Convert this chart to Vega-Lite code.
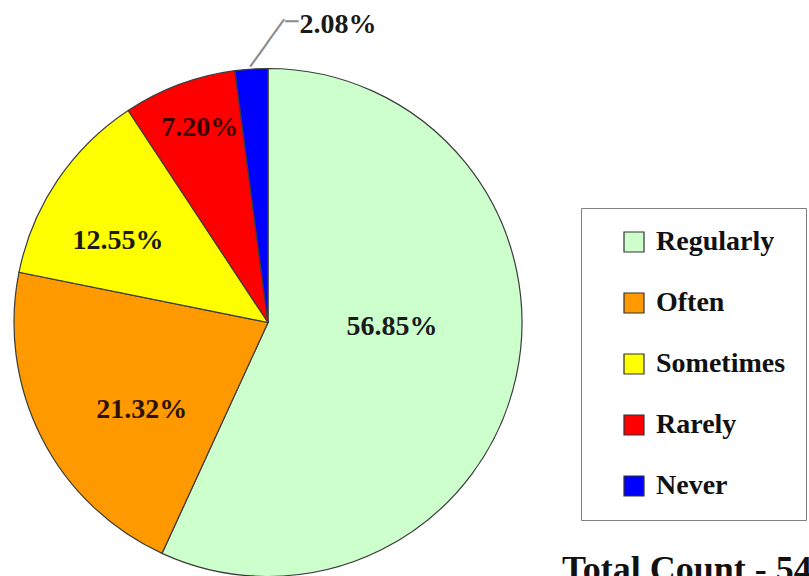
{
  "$schema": "https://vega.github.io/schema/vega-lite/v6.json",
  "width": 536,
  "height": 645,
  "autosize": {"type": "pad"},
  "padding": 0,
  "background": "white",
  "view": {"stroke": null},
  "title": {
    "text": "Total Count - 54",
    "orient": "bottom",
    "anchor": "start",
    "frame": "group",
    "offset": 0,
    "dx": 562,
    "dy": -64,
    "baseline": "alphabetic",
    "font": "Liberation Serif",
    "fontSize": 36,
    "fontWeight": "bold",
    "color": "#111111"
  },
  "data": {
    "values": [
      {"response": "Regularly", "percent": 56.85, "rank": 1, "label": "56.85%"},
      {"response": "Often", "percent": 21.32, "rank": 2, "label": "21.32%"},
      {"response": "Sometimes", "percent": 12.55, "rank": 3, "label": "12.55%"},
      {"response": "Rarely", "percent": 7.20, "rank": 4, "label": "7.20%"},
      {"response": "Never", "percent": 2.08, "rank": 5, "label": "2.08%"}
    ]
  },
  "encoding": {
    "theta": {"field": "percent", "type": "quantitative", "stack": true},
    "order": {"field": "rank", "type": "quantitative"}
  },
  "layer": [
    {
      "mark": {"type": "arc", "radius": 254, "stroke": "#3c3c3c", "strokeWidth": 1.2},
      "encoding": {
        "color": {
          "field": "response",
          "type": "nominal",
          "sort": ["Regularly", "Often", "Sometimes", "Rarely", "Never"],
          "scale": {
            "domain": ["Regularly", "Often", "Sometimes", "Rarely", "Never"],
            "range": ["#CCFFCC", "#FF9900", "#FFFF00", "#FF0000", "#0000FF"]
          },
          "legend": {
            "orient": "none",
            "legendX": 581,
            "legendY": 208,
            "title": null,
            "padding": 20,
            "strokeColor": "#808080",
            "fillColor": "white",
            "symbolType": "square",
            "symbolSize": 400,
            "symbolStrokeColor": "#333333",
            "symbolStrokeWidth": 1.2,
            "symbolOffset": 19,
            "labelOffset": 8,
            "labelFont": "Liberation Serif",
            "labelFontSize": 28,
            "labelFontWeight": "bold",
            "labelColor": "#111111",
            "labelLimit": 300,
            "rowPadding": 33
          }
        }
      }
    },
    {
      "mark": {"type": "text", "radius": 125, "dx": 2, "dy": -22, "font": "Liberation Serif", "fontSize": 28, "fontWeight": "bold", "color": "#1a1a1a"},
      "encoding": {"text": {"condition": {"test": "datum.response === 'Regularly'", "field": "label"}, "value": ""}}
    },
    {
      "mark": {"type": "text", "radius": 153, "dx": 10, "dy": 18, "font": "Liberation Serif", "fontSize": 28, "fontWeight": "bold", "color": "#2a1200"},
      "encoding": {"text": {"condition": {"test": "datum.response === 'Often'", "field": "label"}, "value": ""}}
    },
    {
      "mark": {"type": "text", "radius": 170, "dx": -9, "dy": 14, "font": "Liberation Serif", "fontSize": 28, "fontWeight": "bold", "color": "#1a1a1a"},
      "encoding": {"text": {"condition": {"test": "datum.response === 'Sometimes'", "field": "label"}, "value": ""}}
    },
    {
      "mark": {"type": "text", "radius": 207, "dx": 4, "dy": -1, "font": "Liberation Serif", "fontSize": 28, "fontWeight": "bold", "color": "#3a0000"},
      "encoding": {"text": {"condition": {"test": "datum.response === 'Rarely'", "field": "label"}, "value": ""}}
    },
    {
      "mark": {"type": "text", "radius": 256, "align": "left", "baseline": "middle", "angle": 305.7, "font": "DejaVu Sans Mono", "fontSize": 24, "color": "#8a8a8a"},
      "encoding": {"text": {"condition": {"test": "datum.response === 'Never'", "value": "────"}, "value": ""}}
    },
    {
      "mark": {"type": "text", "radius": 301.6, "dx": 36.6, "align": "left", "baseline": "middle", "font": "DejaVu Sans Mono", "fontSize": 22, "color": "#8a8a8a"},
      "encoding": {"text": {"condition": {"test": "datum.response === 'Never'", "value": "─"}, "value": ""}}
    },
    {
      "mark": {"type": "text", "radius": 298, "dx": 51, "align": "left", "font": "Liberation Serif", "fontSize": 28, "fontWeight": "bold", "color": "#1a1a1a"},
      "encoding": {"text": {"condition": {"test": "datum.response === 'Never'", "field": "label"}, "value": ""}}
    }
  ]
}
